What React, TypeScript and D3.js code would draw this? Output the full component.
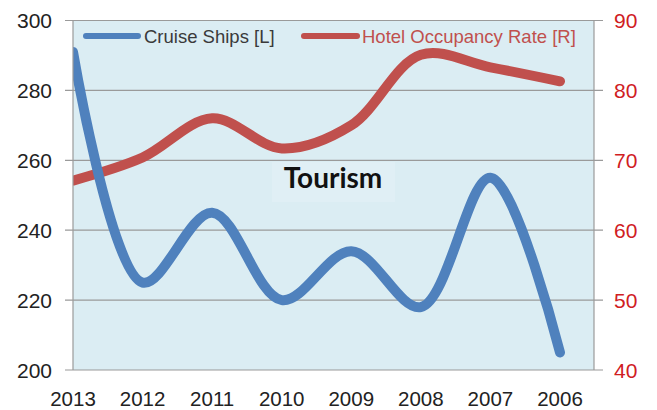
import React from "react";
import * as d3 from "d3";

const years = ["2013", "2012", "2011", "2010", "2009", "2008", "2007", "2006"];
const cruiseShips = [291, 225, 245, 220, 234, 218, 255, 205];
const hotelOccupancy = [67.1, 70.4, 76, 71.7, 75, 85.1, 83.3, 81.3];
const leftTicks = [200, 220, 240, 260, 280, 300];
const rightTicks = [40, 50, 60, 70, 80, 90];

const W = 657;
const H = 410;
const plotLeft = 73;
const plotRight = 594;
const plotTop = 20.5;
const plotBottom = 370;

export default function App() {
  const x = d3.scalePoint<string>().domain(years).range([73, 560]);
  const yL = d3.scaleLinear().domain([200, 300]).range([plotBottom, plotTop]);
  const yR = d3.scaleLinear().domain([40, 90]).range([plotBottom, plotTop]);

  const curve = d3.curveCatmullRom.alpha(0.5);
  const blueLine = d3
    .line<number>()
    .x((_, i) => x(years[i]) as number)
    .y((d) => yL(d))
    .curve(curve);
  const redLine = d3
    .line<number>()
    .x((_, i) => x(years[i]) as number)
    .y((d) => yR(d))
    .curve(curve);

  const font = "'Liberation Sans', Arial, sans-serif";

  return (
    <svg
      width={W}
      height={H}
      style={{ position: "absolute", left: 0, top: 0, background: "#fff" }}
    >
      <defs>
        <clipPath id="plotClip">
          <rect x={plotLeft} y={plotTop} width={plotRight - plotLeft} height={plotBottom - plotTop} />
        </clipPath>
      </defs>
      <rect
        x={plotLeft}
        y={plotTop}
        width={plotRight - plotLeft}
        height={plotBottom - plotTop}
        fill="#dbedf3"
      />
      {/* gridlines */}
      {leftTicks.map((t) => (
        <line
          key={"g" + t}
          x1={plotLeft - 8}
          x2={plotRight + 9}
          y1={yL(t)}
          y2={yL(t)}
          stroke="#9a9a9a"
          strokeWidth={1.2}
        />
      ))}

      {/* title box */}
      <rect x={272} y={162} width={123} height={40} fill="#e0eff5" />
      <text
        x={333}
        y={188}
        textAnchor="middle"
        fontFamily="Lato, 'Open Sans', sans-serif"
        fontWeight="bold"
        fontSize={28}
        fill="#111"
      >
        Tourism
      </text>

      {/* series */}
      <g clipPath="url(#plotClip)">
        <path d={redLine(hotelOccupancy) || ""} fill="none" stroke="#c0504d" strokeWidth={10} strokeLinecap="round" strokeLinejoin="round" />
        <path d={blueLine(cruiseShips) || ""} fill="none" stroke="#4f81bd" strokeWidth={10} strokeLinecap="round" strokeLinejoin="round" />
      </g>
      <line x1={plotLeft} x2={plotLeft} y1={plotTop} y2={plotBottom} stroke="#9a9a9a" strokeWidth={1.2} />
      <line x1={plotRight} x2={plotRight} y1={plotTop} y2={plotBottom} stroke="#9a9a9a" strokeWidth={1.2} />

      {/* legend */}
      <line x1={86} x2={138} y1={36} y2={36} stroke="#4f81bd" strokeWidth={6} strokeLinecap="round" />
      <text x={144} y={43} fontFamily={font} fontSize={18.5} fill="#3a3a3a">
        Cruise Ships [L]
      </text>
      <line x1={304} x2={357} y1={36} y2={36} stroke="#c0504d" strokeWidth={6} strokeLinecap="round" />
      <text x={362} y={43} fontFamily={font} fontSize={18.5} fill="#c0504d">
        Hotel Occupancy Rate [R]
      </text>

      {/* left axis labels */}
      {leftTicks.map((t) => (
        <text key={"l" + t} x={52} y={yL(t) + 7.5} textAnchor="end" fontFamily={font} fontSize={21} fill="#222">
          {t}
        </text>
      ))}
      {/* right axis labels */}
      {rightTicks.map((t) => (
        <text key={"r" + t} x={614} y={yR(t) + 7.5} textAnchor="start" fontFamily={font} fontSize={21} fill="#d0201f">
          {t}
        </text>
      ))}
      {/* x labels */}
      {years.map((y) => (
        <text key={"x" + y} x={x(y) as number} y={406} textAnchor="middle" fontFamily={font} fontSize={20.5} fill="#222">
          {y}
        </text>
      ))}
    </svg>
  );
}
